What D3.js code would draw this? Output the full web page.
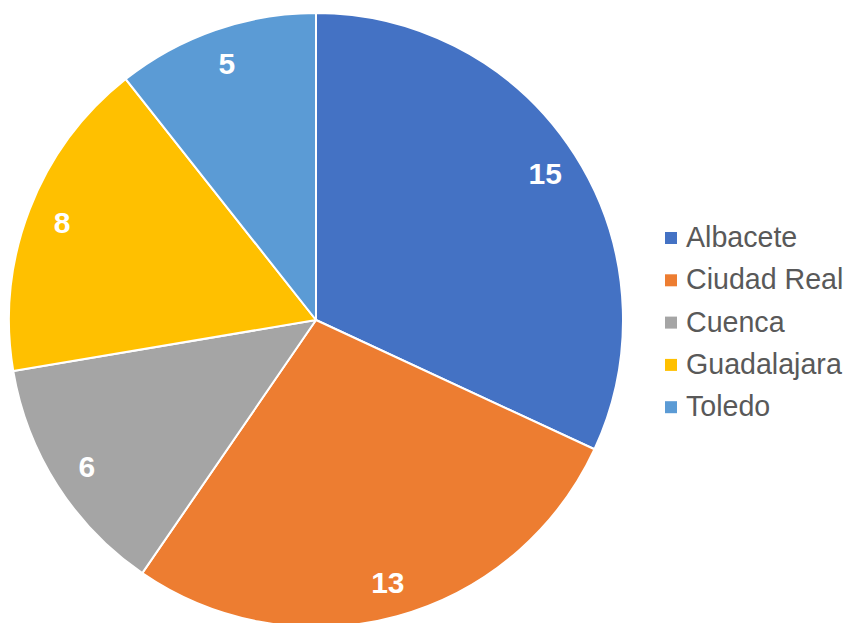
<!DOCTYPE html>
<html>
<head>
<meta charset="utf-8">
<script src="https://cdn.jsdelivr.net/npm/d3@7"></script>
<style>
  html, body { margin: 0; padding: 0; background: #fff; }
  svg { display: block; }
</style>
</head>
<body>
<svg id="chart" width="850" height="623"></svg>
<script>
// Provinces and their counts
const categories = ["Albacete", "Ciudad Real", "Cuenca", "Guadalajara", "Toledo"];
const values = [15, 13, 6, 8, 5];
const colors = ["#4472C4", "#ED7D31", "#A5A5A5", "#FFC000", "#5B9BD5"];

const svg = d3.select("#chart");
const cx = 316, cy = 320, radius = 307, labelRadius = 272;
const font = "'Liberation Sans', Arial, sans-serif";

const pie = d3.pie().sort(null).value(d => d.value);
const arcs = pie(categories.map((c, i) => ({ name: c, value: values[i], color: colors[i] })));
const arc = d3.arc().innerRadius(0).outerRadius(radius);
const labelArc = d3.arc().innerRadius(labelRadius).outerRadius(labelRadius);

const g = svg.append("g").attr("transform", `translate(${cx},${cy})`);

g.selectAll("path")
  .data(arcs)
  .join("path")
  .attr("d", arc)
  .attr("fill", d => d.data.color)
  .attr("stroke", "#fff")
  .attr("stroke-width", 2)
  .attr("stroke-linejoin", "round");

// Value labels, vertically centred on the cap height
g.selectAll("text.value")
  .data(arcs)
  .join("text")
  .attr("class", "value")
  .attr("transform", d => `translate(${labelArc.centroid(d)})`)
  .attr("text-anchor", "middle")
  .attr("dy", 10.7)
  .attr("font-family", font)
  .attr("font-weight", "bold")
  .attr("font-size", 30)
  .attr("fill", "#fff")
  .text(d => d.data.value);

// Legend
const legend = svg.append("g").attr("transform", "translate(665,238)");
const item = legend.selectAll("g")
  .data(categories)
  .join("g")
  .attr("transform", (d, i) => `translate(0,${i * 42.3})`);

item.append("rect")
  .attr("x", 0).attr("y", -6)
  .attr("width", 12).attr("height", 12)
  .attr("fill", (d, i) => colors[i]);

item.append("text")
  .attr("x", 21)
  .attr("y", 9)
  .attr("font-family", font)
  .attr("font-size", 28.6)
  .attr("fill", "#595959")
  .text(d => d);
</script>
</body>
</html>
